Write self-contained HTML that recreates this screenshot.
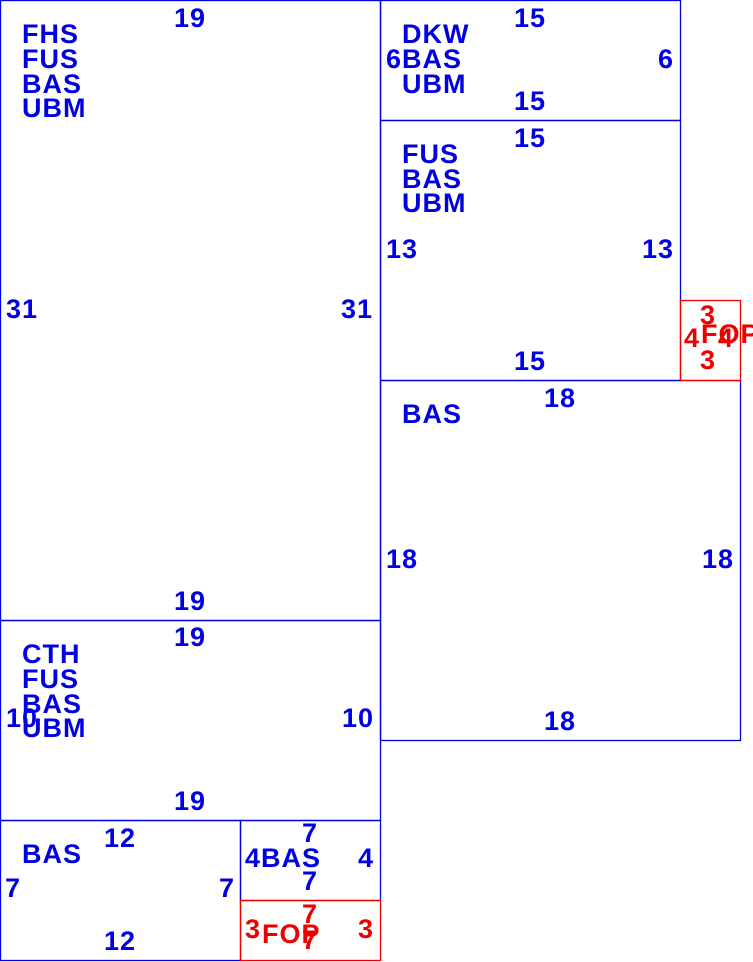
<!DOCTYPE html>
<html><head><meta charset="utf-8"><style>
html,body{margin:0;padding:0;background:#fff;}
svg{display:block;}
text{font-family:"Liberation Sans",Arial,sans-serif;font-weight:bold;font-size:27px;letter-spacing:1px;}
.b{fill:#0000e0;}
.r{fill:#ee0000;}
.m{text-anchor:middle;}
</style></head><body>
<svg width="753" height="962" viewBox="0 0 753 962" xmlns="http://www.w3.org/2000/svg">
<g fill="none" stroke="#0000e0" stroke-width="1.3">
<rect x="0.5" y="0.5" width="380" height="620"/>
<rect x="380.5" y="0.5" width="300" height="120"/>
<rect x="380.5" y="120.5" width="300" height="260"/>
<rect x="380.5" y="380.5" width="360" height="360"/>
<rect x="0.5" y="620.5" width="380" height="200"/>
<rect x="0.5" y="820.5" width="240" height="140"/>
<rect x="240.5" y="820.5" width="140" height="80"/>
</g>
<g fill="none" stroke="#ee0000" stroke-width="1.3">
<rect x="680.5" y="300.5" width="60" height="80"/>
<rect x="240.5" y="900.5" width="140" height="60"/>
</g>
<g class="b">
<text x="190" y="27" class="m">19</text>
<text x="22" y="43">FHS</text>
<text x="22" y="68">FUS</text>
<text x="22" y="93">BAS</text>
<text x="22" y="117">UBM</text>
<text x="22" y="318" class="m">31</text>
<text x="357" y="318" class="m">31</text>
<text x="190" y="610" class="m">19</text>

<text x="530" y="27" class="m">15</text>
<text x="402" y="43">DKW</text>
<text x="386" y="68">6BAS</text>
<text x="402" y="93">UBM</text>
<text x="666" y="68" class="m">6</text>
<text x="530" y="110" class="m">15</text>

<text x="530" y="147" class="m">15</text>
<text x="402" y="163">FUS</text>
<text x="402" y="188">BAS</text>
<text x="402" y="212">UBM</text>
<text x="402" y="258" class="m">13</text>
<text x="658" y="258" class="m">13</text>
<text x="530" y="370" class="m">15</text>

<text x="560" y="407" class="m">18</text>
<text x="402" y="423">BAS</text>
<text x="402" y="568" class="m">18</text>
<text x="718" y="568" class="m">18</text>
<text x="560" y="730" class="m">18</text>

<text x="190" y="646" class="m">19</text>
<text x="22" y="663">CTH</text>
<text x="22" y="688">FUS</text>
<text x="22" y="713">BAS</text>
<text x="22" y="737">UBM</text>
<text x="22" y="727" class="m">10</text>
<text x="358" y="727" class="m">10</text>
<text x="190" y="810" class="m">19</text>

<text x="120" y="847" class="m">12</text>
<text x="22" y="863">BAS</text>
<text x="13" y="897" class="m">7</text>
<text x="227" y="897" class="m">7</text>
<text x="120" y="950" class="m">12</text>

<text x="310" y="842" class="m">7</text>
<text x="245" y="867">4BAS</text>
<text x="366" y="867" class="m">4</text>
<text x="310" y="890" class="m">7</text>
</g>
<g class="r">
<text x="708" y="324" class="m">3</text>
<text x="692" y="347" class="m">4</text>
<text x="701" y="343">FOP</text>
<text x="726" y="347" class="m">4</text>
<text x="708" y="369" class="m">3</text>

<text x="310" y="923" class="m">7</text>
<text x="253" y="938" class="m">3</text>
<text x="262" y="943">FOP</text>
<text x="310" y="949" class="m">7</text>
<text x="366" y="938" class="m">3</text>
</g>
</svg>
</body></html>
